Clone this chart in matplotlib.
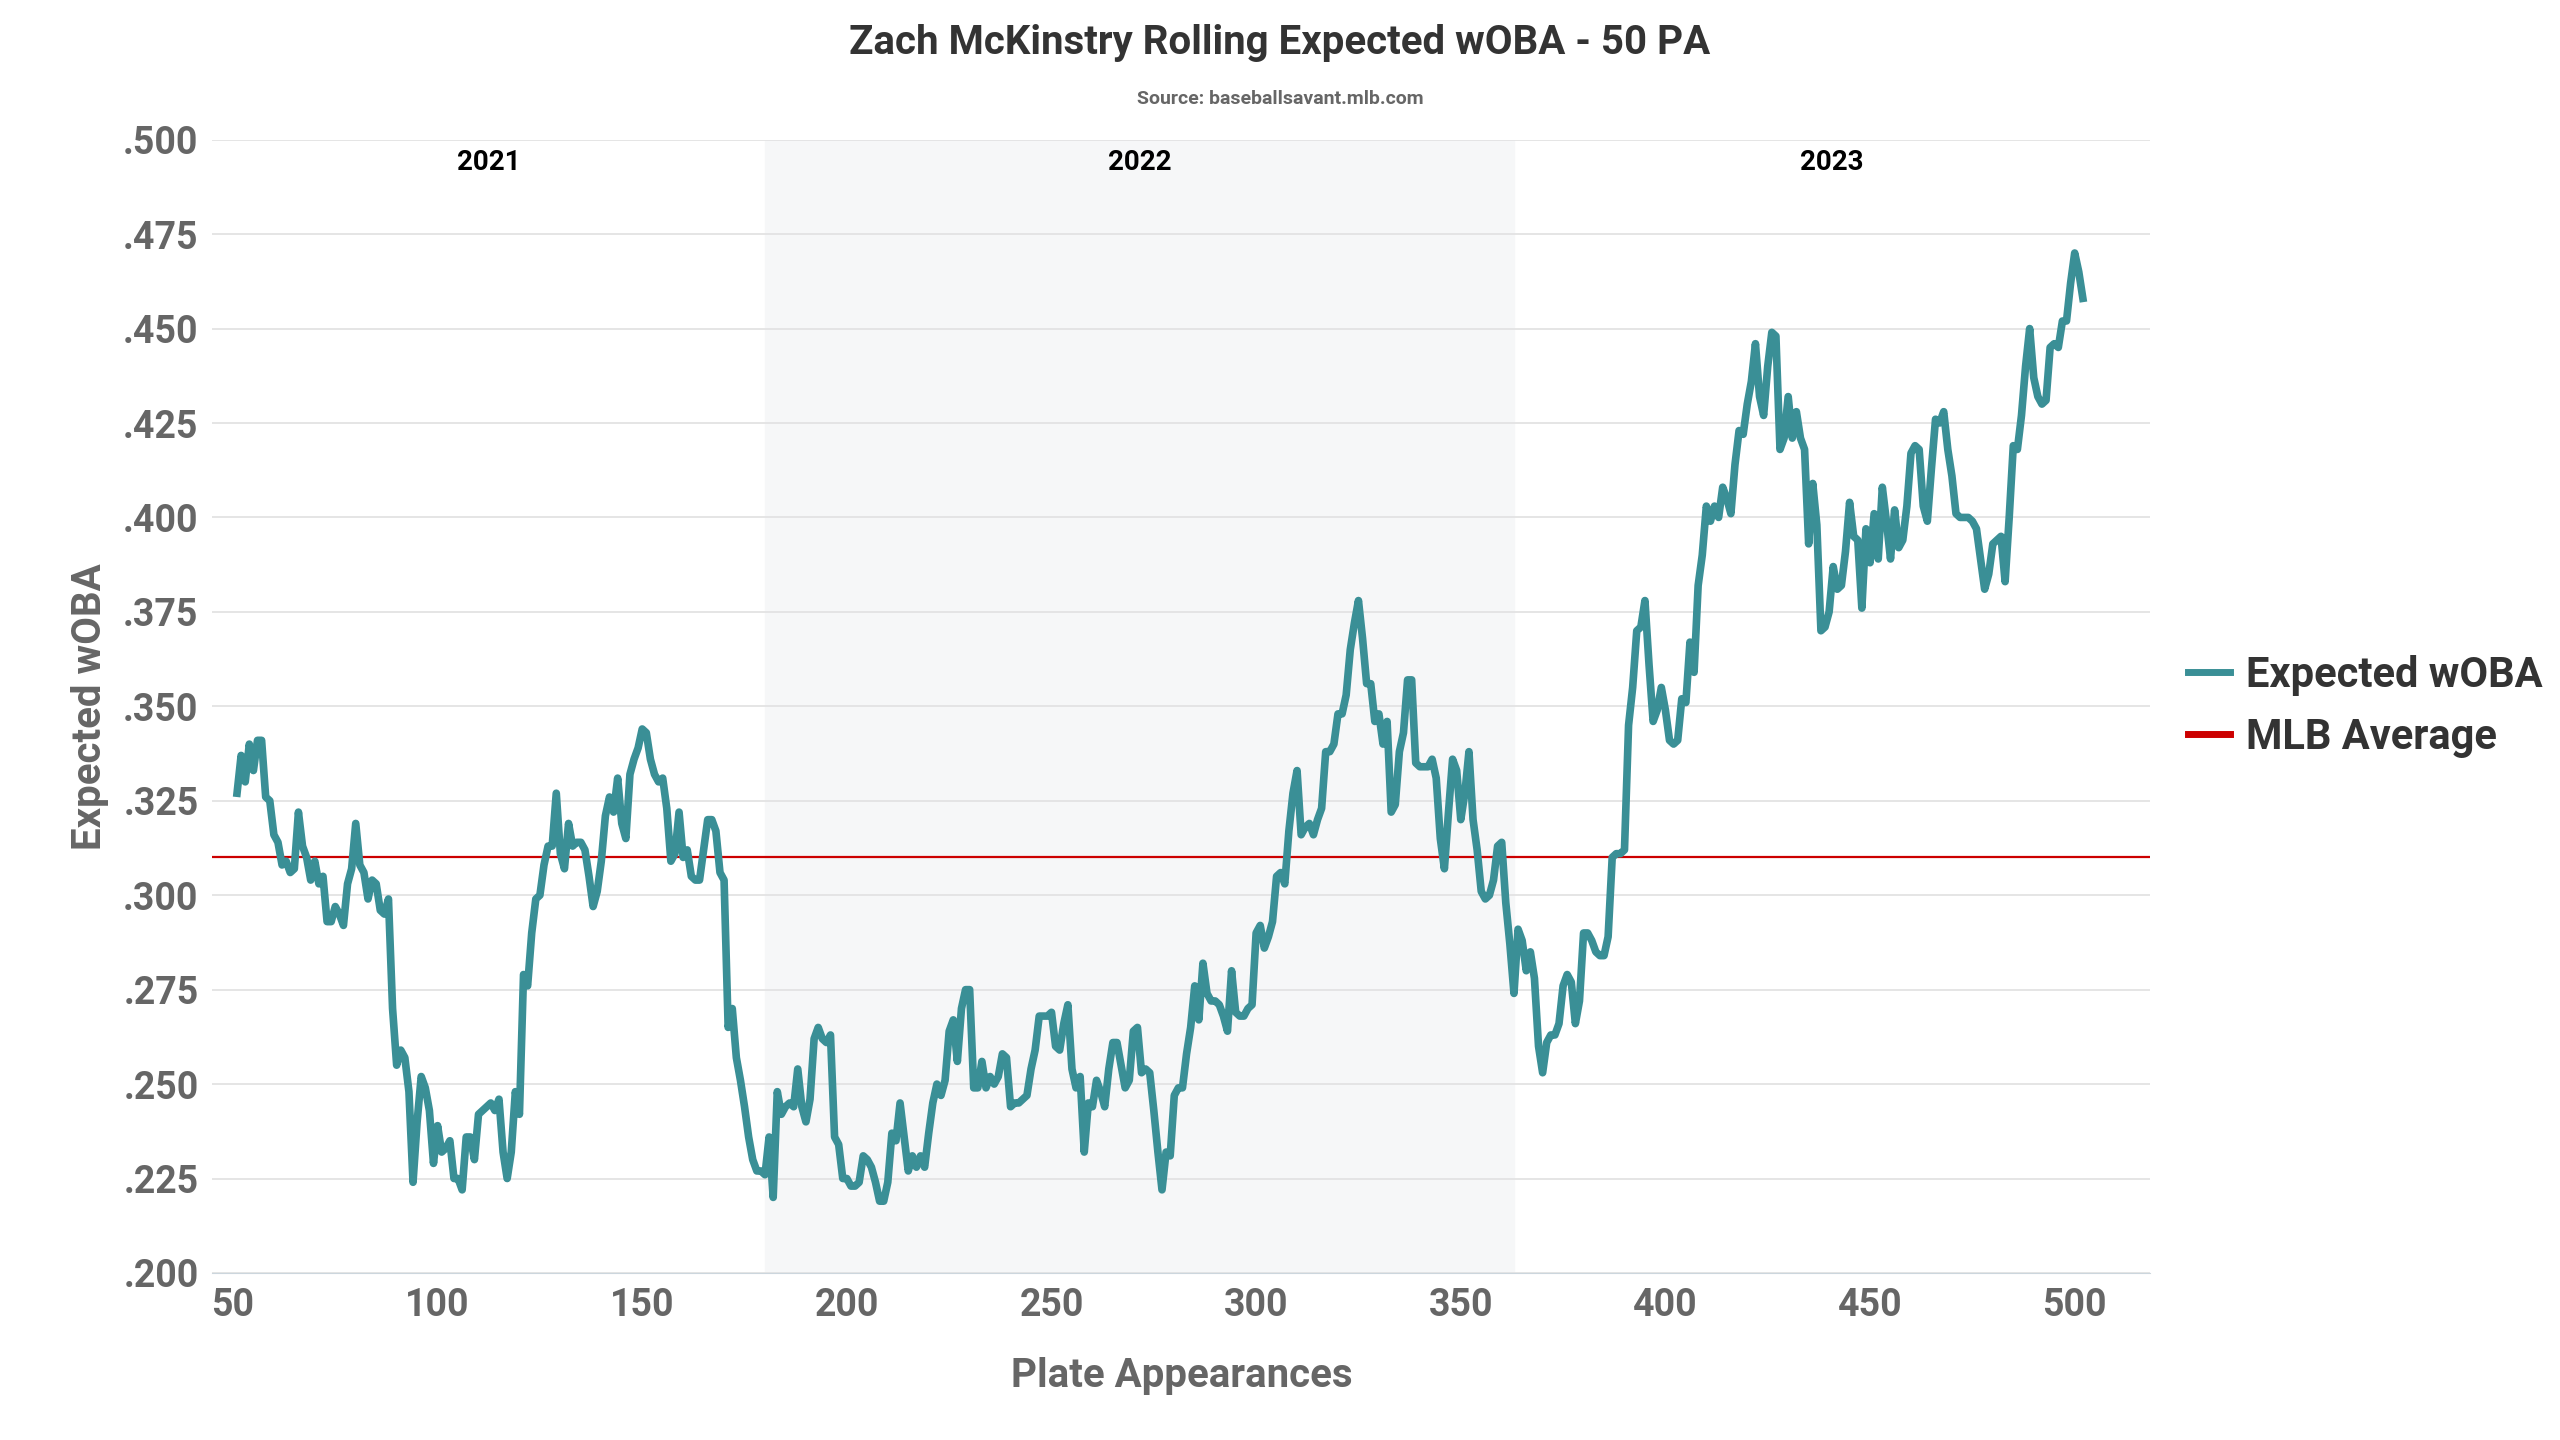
import matplotlib.pyplot as plt
from matplotlib.ticker import FuncFormatter

xwoba = [
    .327, .337, .330, .340, .333, .341, .341, .326, .325, .316, .314, .308, .309, .306, .307, .322, .313, .310, .304, .309,
    .303, .305, .293, .293, .297, .295, .292, .303, .307, .319, .308, .306, .299, .304, .303, .296, .295, .299, .270, .255,
    .259, .257, .248, .224, .240, .252, .249, .243, .229, .239, .232, .233, .235, .225, .225, .222, .236, .236, .230, .242,
    .243, .244, .245, .243, .246, .232, .225, .232, .248, .242, .279, .276, .290, .299, .300, .308, .313, .313, .327, .311,
    .307, .319, .313, .314, .314, .312, .305, .297, .301, .309, .321, .326, .322, .331, .319, .315, .332, .336, .339, .344,
    .343, .336, .332, .330, .331, .323, .309, .311, .322, .310, .312, .305, .304, .304, .312, .320, .320, .317, .306, .304,
    .265, .270, .257, .251, .244, .236, .230, .227, .227, .226, .236, .220, .248, .242, .244, .245, .244, .254, .244, .240,
    .246, .262, .265, .262, .261, .263, .236, .234, .225, .225, .223, .223, .224, .231, .230, .228, .224, .219, .219, .224,
    .237, .235, .245, .236, .227, .231, .228, .231, .228, .237, .245, .250, .247, .251, .264, .267, .256, .270, .275, .275,
    .249, .249, .256, .249, .252, .250, .252, .258, .257, .244, .245, .245, .246, .247, .254, .259, .268, .268, .268, .269,
    .260, .259, .266, .271, .254, .249, .252, .232, .245, .244, .251, .248, .244, .254, .261, .261, .255, .249, .251, .264,
    .265, .253, .254, .253, .243, .232, .222, .232, .231, .247, .249, .249, .258, .265, .276, .267, .282, .274, .272, .272,
    .271, .268, .264, .280, .269, .268, .268, .270, .271, .290, .292, .286, .289, .293, .305, .306, .303, .317, .327, .333,
    .316, .318, .319, .316, .320, .323, .338, .338, .340, .348, .348, .353, .365, .372, .378, .368, .356, .356, .346, .348,
    .340, .346, .322, .324, .338, .343, .357, .357, .335, .334, .334, .334, .336, .331, .315, .307, .322, .336, .333, .320,
    .327, .338, .320, .312, .301, .299, .300, .304, .313, .314, .298, .287, .274, .291, .288, .280, .285, .278, .260, .253,
    .261, .263, .263, .266, .276, .279, .277, .266, .272, .290, .290, .288, .285, .284, .284, .289, .310, .311, .311, .312,
    .345, .355, .370, .371, .378, .361, .346, .349, .355, .349, .341, .340, .341, .352, .351, .367, .359, .382, .390, .403,
    .399, .403, .400, .408, .405, .401, .414, .423, .422, .430, .436, .446, .432, .427, .440, .449, .448, .418, .421, .432,
    .421, .428, .421, .418, .393, .409, .398, .370, .371, .375, .387, .381, .382, .391, .404, .395, .394, .376, .397, .388,
    .401, .389, .408, .399, .389, .402, .392, .394, .403, .417, .419, .418, .403, .399, .413, .426, .425, .428, .418, .411,
    .401, .400, .400, .400, .399, .397, .389, .381, .385, .393, .394, .395, .383, .400, .419, .418, .427, .440, .450, .437,
    .432, .430, .431, .445, .446, .445, .452, .452, .462, .470, .465, .458,
]
start_pa = 51
pa = list(range(start_pa, start_pa + len(xwoba)))
mlb_avg = 0.310
seasons = ["2021", "2022", "2023"]
season_bounds = [45, 180, 363, 518.5]

plt.rcParams['font.family'] = ['Roboto', 'DejaVu Sans']
grey = '#666666'
teal = '#3a8f96'

fig = plt.figure(figsize=(25.6, 14.4), dpi=100)
ax = fig.add_axes([0.083, 0.116, 0.757, 0.787])

ax.axvspan(season_bounds[1], season_bounds[2], color='#f6f7f8', zorder=0)
for i, s in enumerate(seasons):
    mid = (season_bounds[i] + season_bounds[i + 1]) / 2
    ax.text(mid, 0.494, s, ha='center', va='center', fontsize=20, fontweight='bold')

ax.plot(pa, xwoba, color=teal, lw=5.5, label='Expected wOBA', zorder=3, solid_joinstyle='round')
ax.axhline(mlb_avg, color='#cc0000', lw=1.6, label='MLB Average', zorder=2)

ax.set_xlim(45, 518.5)
ax.set_ylim(0.2, 0.5)
ax.set_yticks([0.2 + 0.025 * i for i in range(13)])
ax.set_xticks(range(50, 501, 50))
ax.yaxis.set_major_formatter(FuncFormatter(lambda v, p: f"{v:.3f}".lstrip('0')))
ax.grid(axis='y', color='#e3e3e3', lw=1.3)
ax.set_axisbelow(True)
for sp in ['top', 'right', 'left']:
    ax.spines[sp].set_visible(False)
ax.spines['bottom'].set_color('#ccd6dd')
ax.tick_params(axis='both', length=0, labelsize=27, labelcolor=grey, pad=10)
for lab in ax.get_xticklabels() + ax.get_yticklabels():
    lab.set_fontweight('bold')

ax.set_xlabel('Plate Appearances', fontsize=29, fontweight='bold', color=grey, labelpad=24)
ax.set_ylabel('Expected wOBA', fontsize=29, fontweight='bold', color=grey, labelpad=10)

fig.suptitle('Zach McKinstry Rolling Expected wOBA - 50 PA', y=0.983, fontsize=29, fontweight='bold', color='#333333')
fig.text(0.5, 0.928, 'Source: baseballsavant.mlb.com', ha='center', fontsize=14, fontweight='bold', color=grey)

leg = ax.legend(loc='center left', bbox_to_anchor=(1.0, 0.5), frameon=False,
                prop={'size': 30, 'weight': 'bold'}, handlelength=1.0, handletextpad=0.4)
for t in leg.get_texts():
    t.set_color('#333333')
for h in leg.get_lines():
    h.set_linewidth(5)

fig.savefig('out.png', dpi=100)
